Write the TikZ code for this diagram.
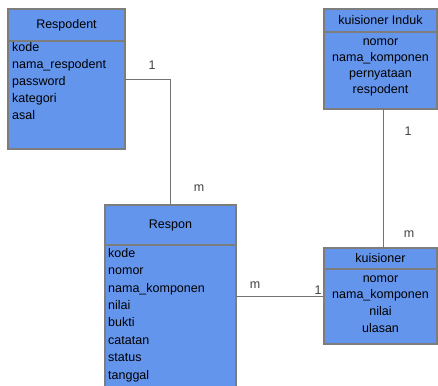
\documentclass[tikz,border=0pt]{standalone}
\usepackage{fontspec}
\setmainfont{Liberation Sans}
\usetikzlibrary{positioning}
\definecolor{entblue}{RGB}{100,149,237}
\definecolor{entline}{RGB}{125,125,125}
\tikzset{
  entbox/.style={draw=entline, fill=entblue, line width=1.2pt, inner sep=0pt, outer sep=0pt,
    font=\fontsize{12.5}{14}\selectfont},
  attr/.style={font=\fontsize{12.5}{14}\selectfont, inner sep=0pt, text height=9pt, text depth=2.5pt},
  card/.style={font=\fontsize{12.5}{14}\selectfont, text=black!75, inner sep=0pt},
  link/.style={draw=black!55, line width=0.9pt}
}

\begin{document}
\begin{tikzpicture}[x=1pt,y=-1pt]
  \clip (0,0) rectangle (438,385);

  % Respodent
  \node[entbox, anchor=north west, minimum width=117pt, minimum height=32pt] (respodentH) at (8,9) {Respodent};
  \node[entbox, anchor=north west, minimum width=117pt, minimum height=108pt] (respodentB) at (respodentH.south west) {};
  \foreach \a [count=\i] in {kode, nama\_respodent, password, kategori, asal}
    \node[attr, anchor=west] (respodentA\i) at (12, {31+17*\i}) {\a};

  % kuisioner Induk
  \node[entbox, anchor=north west, minimum width=113pt, minimum height=23pt] (indukH) at (324,9) {kuisioner Induk};
  \node[entbox, anchor=north west, minimum width=113pt, minimum height=77pt] (indukB) at (indukH.south west) {};
  \foreach \a [count=\i] in {nomor, nama\_komponen, pernyataan, respodent}
    \node[attr] (indukA\i) at (indukB.north |- 0,{25.5+16.3*\i}) {\a};

  % Respon
  \node[entbox, anchor=north west, minimum width=131pt, minimum height=40pt] (responH) at (105,205) {Respon};
  \node[entbox, anchor=north west, minimum width=131pt, minimum height=150pt] (responB) at (responH.south west) {};
  \foreach \a [count=\i] in {kode, nomor, nama\_komponen, nilai, bukti, catatan, status, tanggal}
    \node[attr, anchor=west] (responA\i) at (108, {236.6+17.4*\i}) {\a};

  % kuisioner
  \node[entbox, anchor=north west, minimum width=113pt, minimum height=21pt] (kuisionerH) at (324,248) {kuisioner};
  \node[entbox, anchor=north west, minimum width=113pt, minimum height=75pt] (kuisionerB) at (kuisionerH.south west) {};
  \foreach \a [count=\i] in {nomor, nama\_komponen, nilai, ulasan}
    \node[attr] (kuisionerA\i) at (kuisionerB.north |- 0,{262.3+16.7*\i}) {\a};

  % relasi
  \draw[link] (respodentB.east |- 0,79) -| (responH.north);
  \draw[link] (indukB.south -| 383,0) -- (kuisionerH.north -| 383,0);
  \draw[link] (responB.east |- 0,296) -- (kuisionerB.west |- 0,296);

  \node[card] (c1) at (152,65) {1};
  \node[card] (c2) at (199,188) {m};
  \node[card] (c3) at (408,131) {1};
  \node[card] (c4) at (409,234) {m};
  \node[card] (c5) at (255,285) {m};
  \node[card] (c6) at (318,290) {1};
\end{tikzpicture}
\end{document}
